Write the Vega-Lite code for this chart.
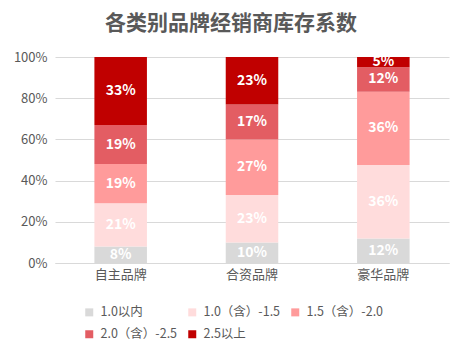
{
  "$schema": "https://vega.github.io/schema/vega-lite/v6.json",
  "width": 394,
  "height": 206,
  "autosize": {"type": "none"},
  "padding": {"left": 55, "top": 57, "right": 15, "bottom": 93},
  "background": "white",
  "config": {
    "font": "Noto Sans CJK SC",
    "view": {"stroke": null}
  },
  "title": {
    "text": "各类别品牌经销商库存系数",
    "fontSize": 21,
    "fontWeight": "bold",
    "color": "#595959",
    "anchor": "middle",
    "frame": "group",
    "dx": -21,
    "offset": 17
  },
  "data": {
    "values": [
      {"brand": "自主品牌", "range": "1.0以内", "k": 1, "v": 0.08},
      {"brand": "自主品牌", "range": "1.0（含）-1.5", "k": 2, "v": 0.21},
      {"brand": "自主品牌", "range": "1.5（含）-2.0", "k": 3, "v": 0.19},
      {"brand": "自主品牌", "range": "2.0（含）-2.5", "k": 4, "v": 0.19},
      {"brand": "自主品牌", "range": "2.5以上", "k": 5, "v": 0.33},
      {"brand": "合资品牌", "range": "1.0以内", "k": 1, "v": 0.10},
      {"brand": "合资品牌", "range": "1.0（含）-1.5", "k": 2, "v": 0.23},
      {"brand": "合资品牌", "range": "1.5（含）-2.0", "k": 3, "v": 0.27},
      {"brand": "合资品牌", "range": "2.0（含）-2.5", "k": 4, "v": 0.17},
      {"brand": "合资品牌", "range": "2.5以上", "k": 5, "v": 0.23},
      {"brand": "豪华品牌", "range": "1.0以内", "k": 1, "v": 0.12},
      {"brand": "豪华品牌", "range": "1.0（含）-1.5", "k": 2, "v": 0.36},
      {"brand": "豪华品牌", "range": "1.5（含）-2.0", "k": 3, "v": 0.36},
      {"brand": "豪华品牌", "range": "2.0（含）-2.5", "k": 4, "v": 0.12},
      {"brand": "豪华品牌", "range": "2.5以上", "k": 5, "v": 0.05}
    ]
  },
  "transform": [
    {"stack": "v", "groupby": ["brand"], "sort": [{"field": "k", "order": "ascending"}], "offset": "normalize", "as": ["lo", "hi"]},
    {"calculate": "(datum.lo + datum.hi) / 2", "as": "mid"}
  ],
  "encoding": {
    "x": {
      "field": "brand",
      "type": "nominal",
      "sort": ["自主品牌", "合资品牌", "豪华品牌"],
      "scale": {"paddingInner": 0.6, "paddingOuter": 0.3},
      "axis": {
        "title": null,
        "labelAngle": 0,
        "labelFontSize": 13,
        "labelColor": "#595959",
        "labelPadding": 5,
        "ticks": false,
        "domainColor": "#d9d9d9"
      }
    }
  },
  "layer": [
    {
      "mark": {"type": "bar"},
      "encoding": {
        "y": {
          "field": "lo",
          "type": "quantitative",
          "scale": {"domain": [0, 1]},
          "axis": {
            "title": null,
            "format": ".0%",
            "values": [0, 0.2, 0.4, 0.6, 0.8, 1],
            "labelFontSize": 13,
            "labelColor": "#595959",
            "labelPadding": 8,
            "ticks": false,
            "domain": false,
            "gridColor": "#d9d9d9"
          }
        },
        "y2": {"field": "hi"},
        "color": {
          "field": "range",
          "type": "nominal",
          "sort": ["1.0以内", "1.0（含）-1.5", "1.5（含）-2.0", "2.0（含）-2.5", "2.5以上"],
          "scale": {
            "domain": ["1.0以内", "1.0（含）-1.5", "1.5（含）-2.0", "2.0（含）-2.5", "2.5以上"],
            "range": ["#d9d9d9", "#ffdcdc", "#ff9b9b", "#e35d63", "#c00000"]
          },
          "legend": {
            "title": null,
            "orient": "none",
            "legendX": 28,
            "legendY": 249,
            "direction": "horizontal",
            "columns": 3,
            "padding": 0,
            "symbolType": "square",
            "symbolSize": 64,
            "symbolStrokeWidth": 0,
            "labelFontSize": 12.5,
            "labelColor": "#595959",
            "labelOffset": 5,
            "rowPadding": 9,
            "columnPadding": 8
          }
        }
      }
    },
    {
      "mark": {"type": "text", "color": "white", "fontWeight": "bold", "fontSize": 14, "baseline": "middle"},
      "encoding": {
        "y": {"field": "mid", "type": "quantitative"},
        "text": {"field": "v", "type": "quantitative", "format": ".0%"}
      }
    }
  ]
}
